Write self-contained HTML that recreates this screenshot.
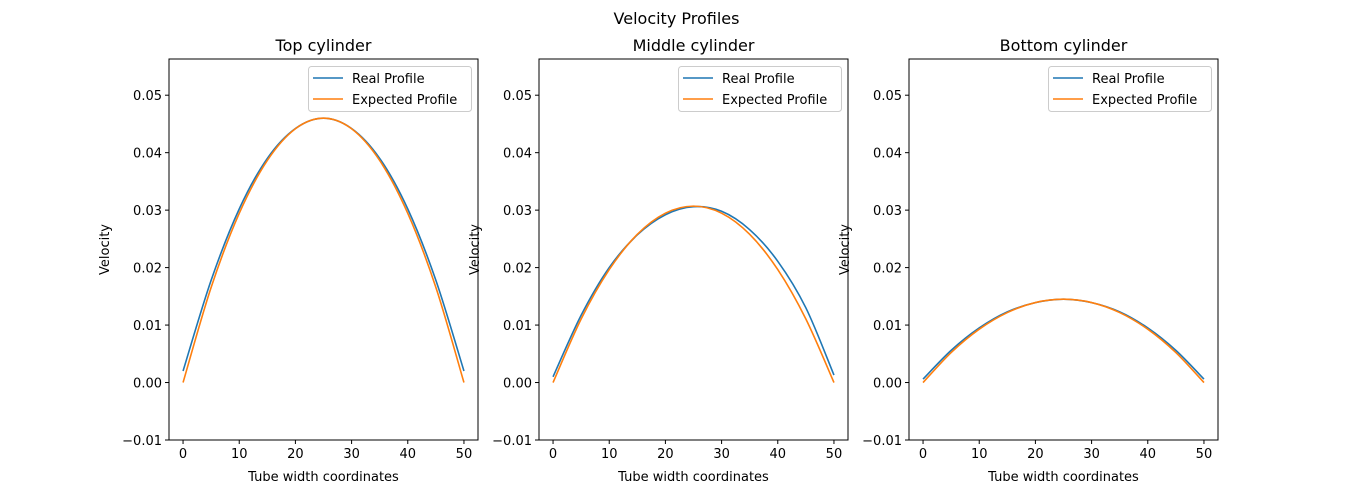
<!DOCTYPE html>
<html><head><meta charset="utf-8"><style>
body{margin:0;background:#fff}
svg{display:block;font-family:"DejaVu Sans","Liberation Sans",sans-serif}
</style></head><body>
<svg id="fig" width="1353" height="495" viewBox="0 0 1353 495">
<rect width="1353" height="495" fill="#fff"/>
<text x="676.5" y="24" font-size="16" text-anchor="middle">Velocity Profiles</text>
</svg>
<script>
const xs = [0,5,10,15,20,25,30,35,40,45,50];
const titles = ["Top cylinder","Middle cylinder","Bottom cylinder"];
const realTop = [0.002,0.0178,0.0302,0.0390,0.0442,0.0460,0.0442,0.0390,0.0302,0.0178,0.002];
const expTop = [0,0.01656,0.02944,0.03864,0.04416,0.046,0.04416,0.03864,0.02944,0.01656,0];
const realMid = [0.001,0.0117,0.0200,0.0257,0.0292,0.0306,0.0298,0.0266,0.0211,0.0130,0.0013];
const expMid = [0,0.01105,0.01965,0.02579,0.02947,0.0307,0.02947,0.02579,0.01965,0.01105,0];
const realBot = [0.0006,0.0056,0.0095,0.0123,0.0139,0.0145,0.0139,0.0123,0.0095,0.0056,0.0006];
const expBot = [0,0.00522,0.00928,0.01218,0.01392,0.0145,0.01392,0.01218,0.00928,0.00522,0];
const xTicks = [0,10,20,30,40,50];
const yTicks = [-0.01,0,0.01,0.02,0.03,0.04,0.05];
const yTickLabels = ["\u22120.01","0.00","0.01","0.02","0.03","0.04","0.05"];
const realSeries = [realTop, realMid, realBot];
const expSeries = [expTop, expMid, expBot];

const NS="http://www.w3.org/2000/svg";
const svg=document.getElementById('fig');
function mk(tag,attrs,parent){const e=document.createElementNS(NS,tag);for(const k in attrs)e.setAttribute(k,attrs[k]);(parent||svg).appendChild(e);return e;}
const lefts=[169,539,909], W=309, T=59, B=440;
const xmin=-2.5,xmax=52.5,ymin=-0.01,ymax=0.0563;
function pathFor(vals,sx,sy){
  const p=xs.map((x,i)=>[sx(x),sy(vals[i])]);
  let d="M"+p[0][0]+","+p[0][1];
  for(let i=0;i<p.length-1;i++){
    const p0=p[Math.max(0,i-1)],p1=p[i],p2=p[i+1],p3=p[Math.min(p.length-1,i+2)];
    const c1=[p1[0]+(p2[0]-p0[0])/6,p1[1]+(p2[1]-p0[1])/6];
    const c2=[p2[0]-(p3[0]-p1[0])/6,p2[1]-(p3[1]-p1[1])/6];
    d+=" C"+c1+" "+c2+" "+p2;
  }
  return d;
}
lefts.forEach((L,k)=>{
  const sx=x=>L+(x-xmin)/(xmax-xmin)*W;
  const sy=y=>B-(y-ymin)/(ymax-ymin)*(B-T);
  const g=mk('g',{});
  
  
  const t=mk('text',{x:L+W/2,y:51,'font-size':16,'text-anchor':'middle'},g);t.textContent=titles[k];
  
  
  xTicks.forEach(v=>{const x=sx(v);mk('line',{x1:x,x2:x,y1:B,y2:B+4,stroke:'#000'},g);
    const tt=mk('text',{x:x,y:B+18,'font-size':13,'text-anchor':'middle'},g);tt.textContent=v;
    
    });
  yTicks.forEach((v,i)=>{const y=sy(v);mk('line',{x1:L-4,x2:L,y1:y,y2:y,stroke:'#000'},g);
    const tt=mk('text',{x:L-7,y:y+5,'font-size':13,'text-anchor':'end'},g);tt.textContent=yTickLabels[i];
    
    });
  const xl=mk('text',{x:L+W/2,y:481,'font-size':13,'text-anchor':'middle'},g);xl.textContent="Tube width coordinates";
  
  
  const yl=mk('text',{x:0,y:0,'font-size':13,'text-anchor':'middle',transform:`translate(${L-60},${(T+B)/2}) rotate(-90)`},g);yl.textContent="Velocity";
  
  
  const r=mk('path',{d:pathFor(realSeries[k],sx,sy),fill:'none',stroke:'#1f77b4','stroke-width':1.6},g);
  
  
  const e=mk('path',{d:pathFor(expSeries[k],sx,sy),fill:'none',stroke:'#ff7f0e','stroke-width':1.6},g);
  
  
  mk('rect',{x:L,y:T,width:W,height:B-T,fill:'none',stroke:'#000','stroke-width':1},g);
  const lg=mk('g',{},g);
  
  
  mk('rect',{x:L+139.5,y:66.5,width:163,height:45,rx:3,fill:'#fff',stroke:'#ccc'},lg);
  [["Real Profile","#1f77b4",78],["Expected Profile","#ff7f0e",99]].forEach(([lab,c,y])=>{
    mk('line',{x1:L+144,x2:L+174,y1:y,y2:y,stroke:c,'stroke-width':1.6},lg);
    const lt=mk('text',{x:L+183,y:y+5,'font-size':13},lg);lt.textContent=lab;
    
    
  });
});
</script>
</body></html>
